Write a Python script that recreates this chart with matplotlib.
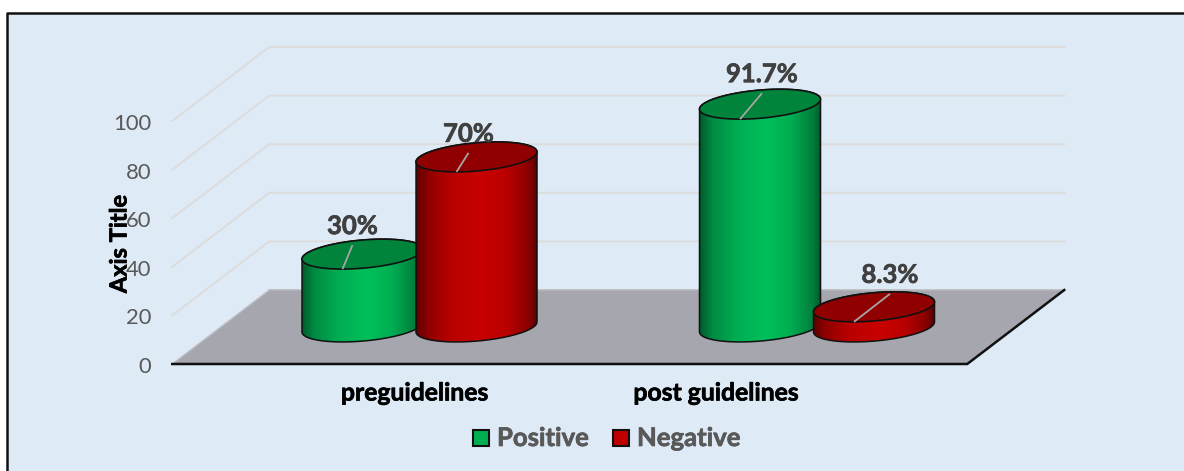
#!/usr/bin/env python3
"""Excel style 3D cylinder chart: positive / negative share before and after guidelines."""

import numpy as np
import matplotlib
matplotlib.use("Agg")
import matplotlib.patheffects as pe
import matplotlib.pyplot as plt
from matplotlib.patches import PathPatch, Polygon, Rectangle
from matplotlib.path import Path

categories = ["preguidelines", "post guidelines"]
series_names = ["Positive", "Negative"]
positive_values = [30, 91.7]
negative_values = [70, 8.3]
positive_labels = ["30%", "91.7%"]
negative_labels = ["70%", "8.3%"]
value_ticks = [0, 20, 40, 60, 80, 100]

W, H = 1184, 471
PX_X = 397.5   # pixels per category
PX_Y = 2.43    # pixels per value unit
ORIGIN_X = 419.5
ORIGIN_Y = 327.0

# depth shear of the floor, front = -1, back = +1
DEPTH_X = 48.5 / PX_X
DEPTH_Y = 37.0 / PX_Y

BAR_OFFSET = 57.0 / PX_X
RX = 60.5 / PX_X
RY = 14.1 / PX_Y
TILT = 5.0 / PX_Y

# label anchor relative to the top ellipse centre, in pixels
LABEL_SHIFT = {"Positive": [(-10, 29), (2, 31)], "Negative": [(-8, 24), (16, 33)]}
# the category labels were dragged by hand in the original
CATEGORY_SHIFT = [-5, -101]

GREEN = dict(top="#00833b", swatch="#00b050",
             stops=["#005c2b", "#008a42", "#00ad52", "#00c05a", "#00ad52", "#007f3c", "#005c2b"])
RED = dict(top="#900000", swatch="#c00000",
           stops=["#5c0000", "#8f0000", "#ba0000", "#c80000", "#ba0000", "#8a0000", "#5c0000"])
STOP_POS = [0, 0.1, 0.3, 0.55, 0.75, 0.93, 1]


def project(cat, val, depth=0.0):
    return cat + depth * DEPTH_X, val + depth * DEPTH_Y


def ellipse_xy(cx, cy, t):
    return cx + RX * np.cos(t), cy + TILT * np.cos(t) + RY * np.sin(t)


def heavy(color):
    # Lato bold is a bit lighter than the original's bold
    return [pe.withStroke(linewidth=0.5, foreground=color)]


def draw_cylinder(ax, cx, value, style, z):
    t = np.linspace(0, np.pi, 80)
    xb, yb = ellipse_xy(cx, 0, -t)               # front of base, right to left
    xt, yt = ellipse_xy(cx, value, t[::-1])      # back of top, left to right
    body = Path(np.c_[np.r_[xb, xt, xb[0]], np.r_[yb, yt, yb[0]]])
    ax.add_patch(PathPatch(body, facecolor="none", edgecolor="#111111", lw=1.1, zorder=z + 0.2))

    ramp = np.array([np.interp(np.linspace(0, 1, 256), STOP_POS, channel)
                     for channel in np.array([matplotlib.colors.to_rgb(c) for c in style["stops"]]).T]).T
    im = ax.imshow(ramp[np.newaxis, :, :], extent=(cx - RX, cx + RX, -30, value + 30),
                   aspect="auto", zorder=z, interpolation="bilinear")
    im.set_clip_path(PathPatch(body, transform=ax.transData))

    tt = np.linspace(0, 2 * np.pi, 160)
    xe, ye = ellipse_xy(cx, value, tt)
    ax.fill(xe, ye, facecolor=style["top"], edgecolor="#111111", lw=1.2, zorder=z + 0.3)


plt.rcParams["font.family"] = ["Lato", "DejaVu Sans"]
fig = plt.figure(figsize=(W / 100, H / 100), dpi=100, facecolor="white")
ax = fig.add_axes([0, 0, 1, 1])
ax.set_axis_off()
xlim = (-ORIGIN_X / PX_X, (W - ORIGIN_X) / PX_X)
ylim = ((ORIGIN_Y - H) / PX_Y, ORIGIN_Y / PX_Y)

# chart area, border only on left and top
fig.add_artist(Rectangle((7 / W, 0), 1 - 7 / W, 1 - 13 / H, transform=fig.transFigure,
                         facecolor="#deeaf6", edgecolor="none", zorder=-5))
fig.add_artist(plt.Line2D([7 / W, 7 / W, 1], [0, 1 - 13 / H, 1 - 13 / H],
                          transform=fig.transFigure, color="#111111", lw=1.8, zorder=-4))

# gridlines on the side and back walls
for v in value_ticks[1:]:
    xs, ys = zip(project(-0.5, v, -1), project(-0.5, v, 1), project(1.5, v, 1))
    ax.plot(xs, ys, color="#dcdcdc", lw=1.4, zorder=1, solid_joinstyle="miter")

# floor
floor = [project(-0.5, 0, -1), project(1.5, 0, -1), project(1.5, 0, 1), project(-0.5, 0, 1)]
ax.add_patch(Polygon(floor, closed=True, facecolor="#a5a6ae", edgecolor="none", zorder=2))
ax.plot(*zip(floor[3], floor[2]), color="#b8b9bd", lw=1.2, zorder=2.1)
ax.plot(*zip(floor[3], floor[0]), color="#c0c0c4", lw=1.0, zorder=2.1)
ax.plot(*zip(floor[0], floor[1], floor[2]), color="#111111", lw=1.8, zorder=2.2,
        solid_joinstyle="miter")

# cylinders, green first so that the red one sits on top
z = 3
for i in range(len(categories)):
    for name, vals, style, sign in (("Positive", positive_values, GREEN, -1),
                                    ("Negative", negative_values, RED, 1)):
        draw_cylinder(ax, i + sign * BAR_OFFSET, vals[i], style, z)
        z += 1

ax.set_xlim(xlim)
ax.set_ylim(ylim)

# data labels with leader lines
for name, vals, labels, sign in (("Positive", positive_values, positive_labels, -1),
                                 ("Negative", negative_values, negative_labels, 1)):
    for i, (v, lab) in enumerate(zip(vals, labels)):
        cx = i + sign * BAR_OFFSET
        dx, dy = LABEL_SHIFT[name][i]
        lx, ly = cx + dx / PX_X, v + dy / PX_Y
        # leader starts on the lowest point of the rim
        ax.plot([cx - 20 / PX_X, lx], [v - 15 / PX_Y, ly - 20 / PX_Y], color="#a6a6a6",
                lw=1.3, zorder=20, solid_capstyle="butt")
        ax.text(lx, ly - 1 / PX_Y, lab, ha="center", va="center", fontsize=18.5, fontweight="bold",
                color="#404040", zorder=21, path_effects=heavy("#404040"))

# value axis, written on the front plane
for v in value_ticks:
    x, y = project(-0.5, v, -1)
    ax.text(x - 21 / PX_X, y - 3 / PX_Y, str(v), ha="right", va="center", fontsize=15.8,
            color="#595959", zorder=6)
ax.text(119 / W, 1 - 244 / H, "Axis Title", transform=ax.transAxes, rotation=90, ha="center",
        va="center", fontsize=17, fontweight="bold", color="black", zorder=7,
        path_effects=heavy("black"))

# category labels
for i, cat in enumerate(categories):
    x, y = project(i, 0, -1)
    ax.text(i + CATEGORY_SHIFT[i] / PX_X, y - 29 / PX_Y, cat, ha="center", va="center", fontsize=17.8,
            fontweight="bold", color="black", zorder=6, path_effects=heavy("black"))

# legend
legend_items = [(473, GREEN["swatch"], series_names[0]), (613, RED["swatch"], series_names[1])]
for px, color, name in legend_items:
    fig.add_artist(Rectangle((px / W, 1 - 446 / H), 16 / W, 16 / H, transform=fig.transFigure,
                             facecolor=color, edgecolor="#111111", lw=1.5, zorder=8))
    fig.text((px + 24) / W, 1 - 438 / H, name, ha="left", va="center", fontsize=18.5,
             fontweight="bold", color="#595959", zorder=8, path_effects=heavy("#595959"))

fig.savefig("out.png", dpi=100, facecolor="white")
plt.close(fig)
